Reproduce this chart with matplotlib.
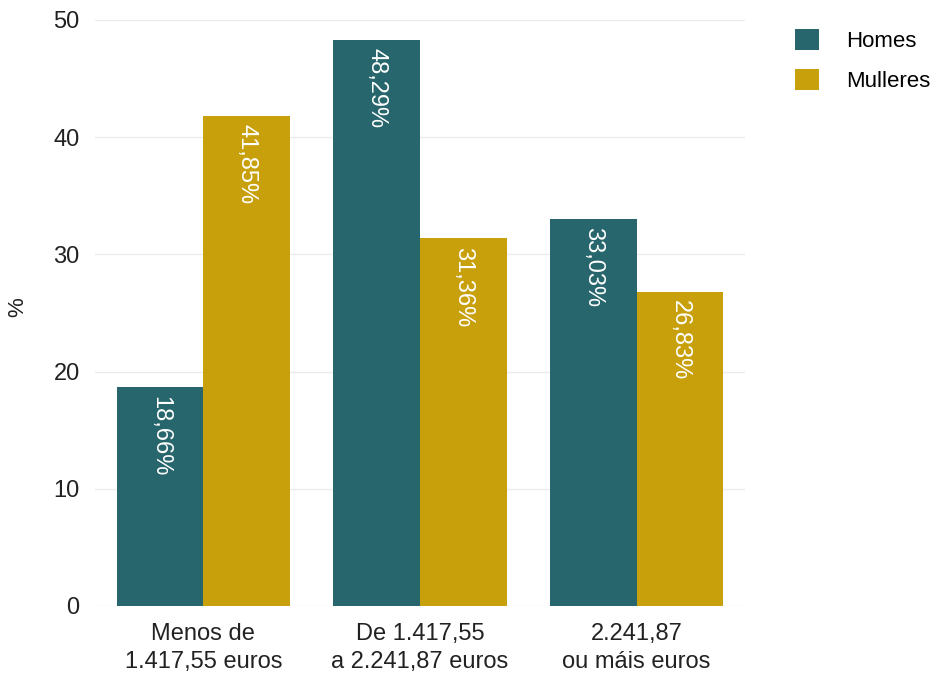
import matplotlib
matplotlib.use("Agg")
import matplotlib.pyplot as plt
import numpy as np
from matplotlib.patches import Patch

plt.rcParams['font.family'] = ['Liberation Sans', 'DejaVu Sans']

categories = ["Menos de\n1.417,55 euros", "De 1.417,55\na 2.241,87 euros", "2.241,87\nou máis euros"]
homes = [18.66, 48.29, 33.03]
mulleres = [41.85, 31.36, 26.83]
series_names = ["Homes", "Mulleres"]
colors = ["#26666C", "#C8A00C"]
yticks = [0, 10, 20, 30, 40, 50]

fig = plt.figure(figsize=(9.33, 6.75), dpi=100)
ax = fig.add_axes([95/933, 1 - 606/675, 650/933, 586/675])

x = np.arange(len(categories))
w = 0.4
for vals, off, col in [(homes, -w/2, colors[0]), (mulleres, w/2, colors[1])]:
    bars = ax.bar(x + off, vals, width=w, color=col, zorder=2)
    for b, v in zip(bars, vals):
        ax.annotate(f"{v:.2f}%".replace(".", ","),
                    (b.get_x() + b.get_width()/2, v), xytext=(0, -6),
                    textcoords="offset points", rotation=-90,
                    ha="center", va="top", color="white", fontsize=17)

ax.set_xlim(-0.5, 2.5)
ax.set_ylim(0, 50)
ax.set_yticks(yticks)
ax.set_xticks(x)
ax.set_xticklabels(categories, linespacing=1.4)
ax.tick_params(axis="both", length=0, labelsize=17, colors="#222222")
ax.tick_params(axis="y", pad=11)
ax.tick_params(axis="x", pad=12)
ax.grid(axis="y", color="#EBEBEB", linewidth=1, zorder=0)
for s in ax.spines.values():
    s.set_visible(False)
ax.set_ylabel("%", fontsize=16, color="#222222", va="center")
ax.yaxis.set_label_coords(-77/650, 0.51)

handles = [Patch(facecolor=c, label=n) for c, n in zip(colors, series_names)]
fig.legend(handles=handles, loc="upper left", bbox_to_anchor=(775/933, 1 - 9/675),
           frameon=False, fontsize=16, handlelength=1.1, handleheight=1.1,
           handletextpad=1.2, labelspacing=0.75)

fig.savefig("out.png", dpi=100, facecolor="white")
